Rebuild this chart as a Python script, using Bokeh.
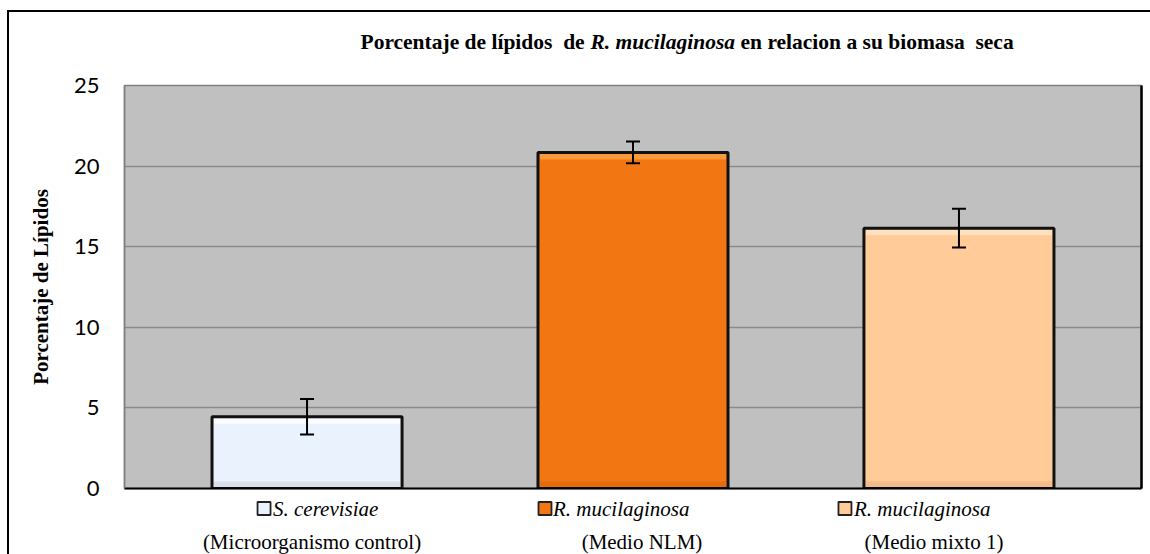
from bokeh.plotting import figure
from bokeh.layouts import column
from bokeh.models import (FactorRange, Range1d, Whisker, ColumnDataSource,
                          LinearAxis, TeeHead, FixedTicker)
from bokeh.embed import file_html
from bokeh.resources import INLINE
from bokeh.core.properties import value

# ---- data ----
species = ["S. cerevisiae", "R. mucilaginosa", "R. mucilaginosa"]
medium = ["(Microorganismo control)", "(Medio NLM)", "(Medio mixto 1)"]
lipids = [4.45, 20.85, 16.15]
errors = [1.1, 0.68, 1.2]
colors = ["#EAF3FD", "#F27713", "#FFCB98"]
highlight = ["#FFFFFF", "#F9A548", "#FFE8CC"]
shade = ["#C9D3DE", "#D9650D", "#E9B07C"]
y_ticks = [0, 5, 10, 15, 20, 25]
title_parts = ["Porcentaje de lípidos\u00a0 de", "R. mucilaginosa", "en relacion a su biomasa\u00a0 seca"]
title_styles = ["bold", "bold italic", "bold"]
y_label = "Porcentaje de Lípidos"

W = 1150
FRAME_L, FRAME_R = 124, 9
FRAME_T, FRAME_B = 85, 488
PAD_SIDE = 0.06
BAR_W = 0.583
xr = FactorRange(factors=medium, range_padding=PAD_SIDE, range_padding_units="absolute")
px_per_unit = (W - FRAME_L - FRAME_R) / (len(medium) + 2 * PAD_SIDE)
py_per_unit = (FRAME_B - FRAME_T) / (y_ticks[-1] - y_ticks[0])

# ---------------- title strip ----------------
TH = 70
tf = figure(width=W, height=TH, output_backend="svg", toolbar_location=None,
            x_range=Range1d(FRAME_L, W - FRAME_R), y_range=Range1d(TH, 0),
            x_axis_location=None, y_axis_location=None,
            min_border_left=FRAME_L, min_border_right=FRAME_R,
            min_border_top=0, min_border_bottom=0)
tf.background_fill_alpha = 0
tf.border_fill_alpha = 0
tf.outline_line_color = None
tf.grid.visible = False
title_x = [360, 590, 740]
tf.text(x=title_x, y=[41.5] * 3, text=title_parts,
        text_font=value("Liberation Serif"), text_font_size="21.5px",
        text_font_style=title_styles, text_color="black",
        text_align="left", text_baseline="middle")

# ---------------- main chart ----------------
d_in = 1.5 / py_per_unit
d_band = 7 / py_per_unit
src = ColumnDataSource(dict(
    x=medium, top=lipids, color=colors,
    upper=[v + e for v, e in zip(lipids, errors)],
    lower=[v - e for v, e in zip(lipids, errors)],
    hl_top=[v - d_in for v in lipids], hl_bot=[v - d_band for v in lipids],
    sh_top=[d_band] * len(lipids), sh_bot=[d_in] * len(lipids),
    hl=highlight, sh=shade,
))

p = figure(width=W, height=500 - TH, output_backend="svg", toolbar_location=None,
           x_range=xr, y_range=Range1d(y_ticks[0], y_ticks[-1]),
           min_border_left=FRAME_L, min_border_right=FRAME_R,
           min_border_top=FRAME_T - TH, min_border_bottom=12)
p.background_fill_color = "#C0C0C0"
p.border_fill_alpha = 0
p.outline_line_color = "#7F7F7F"
p.outline_line_width = 1.5

inner_w = BAR_W - 4 / px_per_unit
p.vbar(x="x", top="top", width=BAR_W, source=src, fill_color="color", line_color=None)
p.vbar(x="x", top="hl_top", bottom="hl_bot", width=inner_w, source=src,
       fill_color="hl", fill_alpha=0.75, line_color=None)
p.vbar(x="x", top="sh_top", bottom="sh_bot", width=inner_w, source=src,
       fill_color="sh", fill_alpha=0.6, line_color=None)
p.vbar(x="x", top="top", width=BAR_W, source=src, fill_color=None,
       line_color="#111111", line_width=3)

w = Whisker(base="x", upper="upper", lower="lower", source=src, level="overlay",
            line_color="black", line_width=2,
            upper_head=TeeHead(size=14, line_color="black", line_width=2),
            lower_head=TeeHead(size=14, line_color="black", line_width=2))
p.add_layout(w)

yax = p.yaxis[0]
yax.ticker = FixedTicker(ticks=y_ticks)
yax.major_tick_out = 0
yax.major_tick_in = 0
yax.minor_tick_out = 0
yax.minor_tick_in = 0
yax.axis_line_color = "#7F7F7F"
yax.axis_line_width = 1.5
yax.major_label_standoff = 25
yax.major_label_text_font = "Lato"
yax.major_label_text_font_size = "22px"
yax.major_label_text_color = "black"
yax.axis_label = y_label
yax.axis_label_text_font = "Liberation Serif"
yax.axis_label_text_font_style = "bold"
yax.axis_label_text_font_size = "21px"
yax.axis_label_text_color = "black"
yax.axis_label_standoff = 18

p.ygrid.grid_line_color = "#8A8A8A"
p.ygrid.grid_line_width = 1.5
p.xgrid.grid_line_color = None

xax = p.xaxis[0]
xax.axis_line_color = "black"
xax.axis_line_width = 2
xax.major_tick_out = 0
xax.major_tick_in = 0
xax.major_label_text_font_size = "0px"
xax.major_label_standoff = 0

rax = LinearAxis(axis_line_color="black", axis_line_width=2.5, major_tick_out=0, major_tick_in=0,
                 minor_tick_out=0, minor_tick_in=0, major_label_text_font_size="0px",
                 major_label_standoff=0, ticker=FixedTicker(ticks=y_ticks))
p.add_layout(rax, "right")

# ---------------- category labels strip ----------------
lf = figure(width=W, height=54, output_backend="svg", toolbar_location=None,
            x_range=xr, y_range=Range1d(54, 0),
            x_axis_location=None, y_axis_location=None,
            min_border_left=FRAME_L, min_border_right=FRAME_R,
            min_border_top=0, min_border_bottom=0)
lf.background_fill_alpha = 0
lf.border_fill_alpha = 0
lf.outline_line_color = None
lf.grid.visible = False

sq_off = [-43, -88, -114]
txt_off = [-34, -80, -105]
med_off = [5, 9, -25]
sq_x = [i + 0.5 + o / px_per_unit for i, o in enumerate(sq_off)]
lf.scatter(x=sq_x, y=[8] * 3, marker="square", size=13, fill_color=colors,
           line_color="#222222", line_width=1.8)
lf.text(x=medium, y=[8] * 3, text=species, x_offset=txt_off,
        text_font=value("Liberation Serif"), text_font_style="italic",
        text_font_size="21px", text_color="black",
        text_align="left", text_baseline="middle")
lf.text(x=medium, y=[41] * 3, text=medium, x_offset=med_off,
        text_font=value("Liberation Serif"), text_font_size="21px", text_color="black",
        text_align="center", text_baseline="middle")

layout = column(tf, p, lf, spacing=0)
layout.styles = {"background-color": "white",
                 "box-shadow": "inset 7px 10px 0 0 white, inset 9px 12px 0 0 black"}

open("out.html", "w").write(file_html(layout, INLINE))
